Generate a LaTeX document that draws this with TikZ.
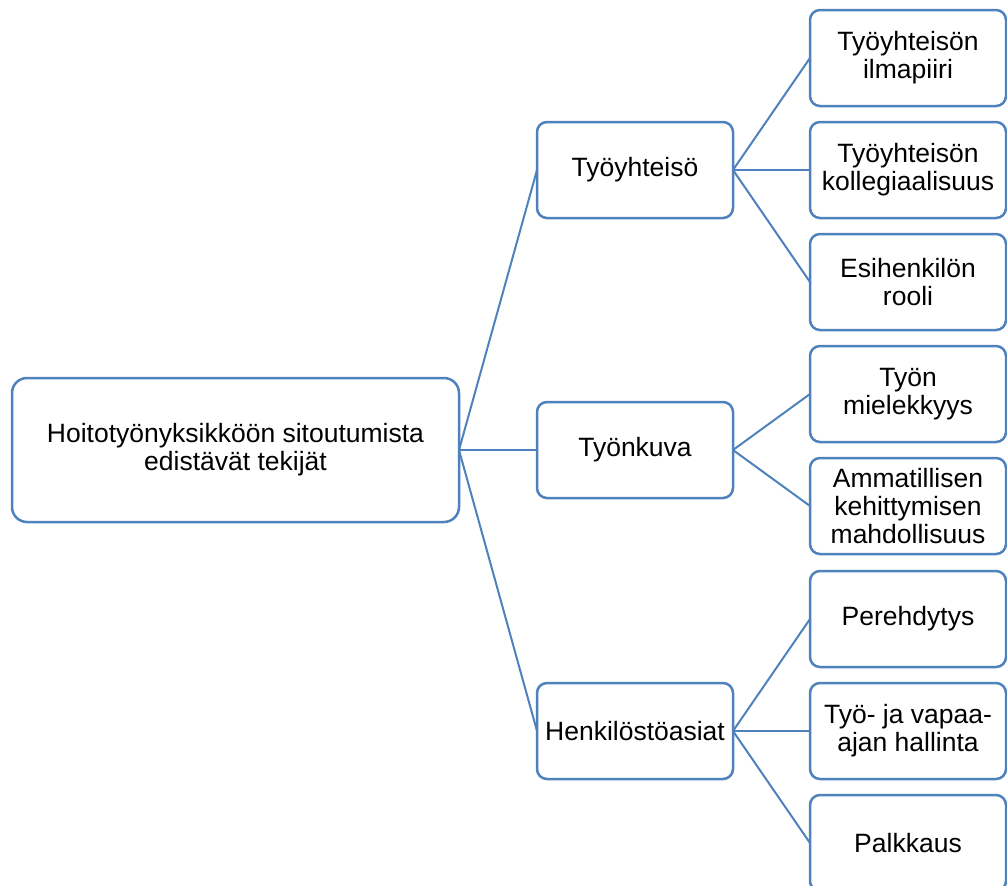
\documentclass[tikz,border=0pt]{standalone}
\usepackage{fontspec}
\setmainfont{Liberation Sans}
\usepackage{tikz}
\usetikzlibrary{positioning}
\definecolor{smartblue}{RGB}{79,129,189}
\tikzstyle{rootbox} = [rectangle, rounded corners=15pt, minimum width=447pt, minimum height=144pt, text centered, align=center, draw=smartblue, line width=2.5pt, fill=white, outer sep=0pt]
\tikzstyle{midbox} = [rectangle, rounded corners=10pt, minimum width=196pt, minimum height=96pt, text centered, align=center, draw=smartblue, line width=2.5pt, fill=white, inner sep=2pt, outer sep=0pt]
\tikzstyle{leafbox} = [midbox]
\tikzstyle{link} = [draw=smartblue, line width=2pt]

\begin{document}
\begin{tikzpicture}[x=1pt, y=-1pt, node distance=16pt, font=\fontsize{26.5}{28}\selectfont]
		\useasboundingbox (0,0) rectangle (1007,886);
		
		% Nodes
		\node (root) [rootbox] at (235.5,450) {Hoitotyönyksikköön sitoutumista\\edistävät tekijät};
		\node (tyoyhteiso) [midbox] at (635,170) {Työyhteisö};
		\node (tyonkuva) [midbox] at (635,450) {Työnkuva};
		\node (henkilosto) [midbox] at (635,731) {Henkilöstöasiat};
		
		\node (kollegiaalisuus) [leafbox, right=77pt of tyoyhteiso] {Työyhteisön\\kollegiaalisuus};
		\node (ilmapiiri) [leafbox, above=of kollegiaalisuus] {Työyhteisön\\ilmapiiri};
		\node (esihenkilo) [leafbox, below=of kollegiaalisuus] {Esihenkilön\\rooli};
		\node (mielekkyys) [leafbox, below=of esihenkilo] {Työn\\mielekkyys};
		\node (kehittyminen) [leafbox, below=of mielekkyys] {Ammatillisen\\kehittymisen\\mahdollisuus};
		\node (hallinta) [leafbox, right=77pt of henkilosto] {Työ- ja vapaa-\\ajan hallinta};
		\node (perehdytys) [leafbox, above=of hallinta] {Perehdytys};
		\node (palkkaus) [leafbox, below=of hallinta] {Palkkaus};
		
		% Connectors
		\draw [link] (root.east) -- (tyoyhteiso.west);
		\draw [link] (root.east) -- (tyonkuva.west);
		\draw [link] (root.east) -- (henkilosto.west);
		\draw [link] (tyoyhteiso.east) -- (ilmapiiri.west);
		\draw [link] (tyoyhteiso.east) -- (kollegiaalisuus.west);
		\draw [link] (tyoyhteiso.east) -- (esihenkilo.west);
		\draw [link] (tyonkuva.east) -- (mielekkyys.west);
		\draw [link] (tyonkuva.east) -- (kehittyminen.west);
		\draw [link] (henkilosto.east) -- (perehdytys.west);
		\draw [link] (henkilosto.east) -- (hallinta.west);
		\draw [link] (henkilosto.east) -- (palkkaus.west);
		
	\end{tikzpicture}
\end{document}
